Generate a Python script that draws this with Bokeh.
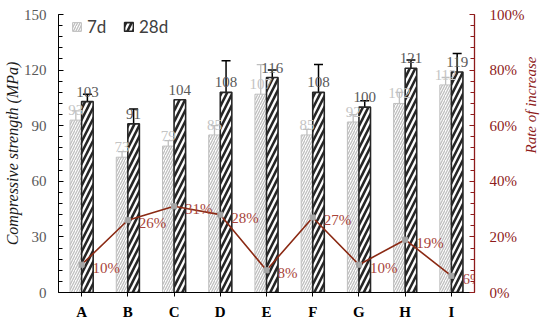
import math
from bokeh.plotting import figure
from bokeh.models import (ColumnDataSource, Range1d, LinearAxis, SingleIntervalTicker,
                          PrintfTickFormatter, Whisker, TeeHead, FactorRange,
                          Legend, LegendItem)
from bokeh.transform import dodge
from bokeh.core.properties import value
from bokeh.embed import file_html
from bokeh.resources import INLINE

categories = ["A", "B", "C", "D", "E", "F", "G", "H", "I"]
strength_7d = [93, 73, 79, 85, 107, 85, 92, 102, 112]
strength_28d = [103, 91, 104, 108, 116, 108, 100, 121, 119]
err_7d = [5, 3, 3, 5, 16, 3, 4, 6, 4]
err_28d = [4, 8, 0, 17, 4, 15, 3.5, 4.5, 10]
rate_increase = [10, 26, 31, 28, 8, 27, 10, 19, 6]
left_ticks_interval = 30
right_ticks_interval = 20

SERIF = "Liberation Serif"
DARKRED = "#8E1B1B"
LINE_RED = "#8B2A14"
LABEL_RED = "#A8443A"

src = ColumnDataSource(dict(
    cat=categories,
    s7=strength_7d,
    s28=strength_28d,
    up7=[v + e for v, e in zip(strength_7d, err_7d)],
    lo7=[v - e for v, e in zip(strength_7d, err_7d)],
    up28=[v + e for v, e in zip(strength_28d, err_28d)],
    lo28=[v - e for v, e in zip(strength_28d, err_28d)],
    t7=[str(v) for v in strength_7d],
    t28=[str(v) for v in strength_28d],
    rate=rate_increase,
    trate=["%d%%" % v for v in rate_increase],
))

p = figure(frame_width=416, frame_height=278, output_backend="svg", toolbar_location=None,
           x_range=FactorRange(*categories, range_padding=0, factor_padding=0),
           y_range=Range1d(0, 150),
           min_border_left=54, min_border_right=64, min_border_top=14, min_border_bottom=22)
p.outline_line_color = None
p.xgrid.visible = False
p.ygrid.visible = False
p.extra_y_ranges = {"rate": Range1d(0, 100)}

off = 0.125
bw = 0.25
r7 = p.vbar(x=dodge("cat", -off, range=p.x_range), top="s7", width=bw, source=src,
            fill_color="white", line_color="#BFBFBF", line_width=1,
            hatch_pattern="/", hatch_color="#BFBFBF", hatch_weight=1.3, hatch_scale=5)
r28 = p.vbar(x=dodge("cat", off, range=p.x_range), top="s28", width=bw, source=src,
             fill_color="white", line_color="#262626", line_width=1.6,
             hatch_pattern="/", hatch_color="#262626", hatch_weight=2.6, hatch_scale=11)

w7 = Whisker(base=dodge("cat", -off, range=p.x_range), upper="up7", lower="lo7", source=src,
             line_color="#BFBFBF", line_width=1.3,
             upper_head=TeeHead(size=8, line_color="#BFBFBF", line_width=1.3),
             lower_head=TeeHead(size=8, line_color="#BFBFBF", line_width=1.3))
w28 = Whisker(base=dodge("cat", off, range=p.x_range), upper="up28", lower="lo28", source=src,
              line_color="black", line_width=1.5,
              upper_head=TeeHead(size=9, line_color="black", line_width=1.5),
              lower_head=TeeHead(size=9, line_color="black", line_width=1.5))
p.add_layout(w7)
p.add_layout(w28)

p.text(x=dodge("cat", -off, range=p.x_range), y="s7", text="t7", source=src,
       text_align="center", text_baseline="alphabetic", y_offset=-10,
       text_font=value(SERIF), text_font_size="15px", text_color="#C4C4C4")
p.text(x=dodge("cat", off, range=p.x_range), y="s28", text="t28", source=src,
       text_align="center", text_baseline="alphabetic", y_offset=-10,
       text_font=value(SERIF), text_font_size="15px", text_color="#595959")

# rate of increase line
p.line(x="cat", y="rate", source=src, y_range_name="rate", line_color=LINE_RED, line_width=1.6)
p.scatter(x="cat", y="rate", source=src, y_range_name="rate", marker="square", size=5,
          fill_color="#A6A6A6", line_color="#A6A6A6")
p.text(x="cat", y="rate", text="trate", source=src, y_range_name="rate",
       text_align="left", text_baseline="middle", x_offset=11, y_offset=3,
       text_font=value(SERIF), text_font_size="15px", text_color=LABEL_RED)

# legend
leg = Legend(items=[LegendItem(label="7d", renderers=[r7]),
                    LegendItem(label="28d", renderers=[r28])],
             location=(13, 255), orientation="horizontal",
             border_line_color=None, background_fill_alpha=0,
             margin=0, padding=0, spacing=16, label_standoff=5,
             glyph_width=11, glyph_height=11,
             label_text_font="Lato", label_text_font_size="17px", label_text_color="#404040")
p.add_layout(leg)

# left axis
ya = p.yaxis[0]
ya.ticker = SingleIntervalTicker(interval=left_ticks_interval, num_minor_ticks=5)
ya.axis_label = "Compressive strength (MPa)"
ya.axis_label_text_font = SERIF
ya.axis_label_text_font_style = "italic"
ya.axis_label_text_font_size = "16px"
ya.axis_label_text_color = "#1A1A1A"
ya.axis_label_standoff = 0
ya.major_label_text_font = SERIF
ya.major_label_text_font_size = "15px"
ya.major_label_text_color = "#595959"
ya.major_label_standoff = 12
ya.major_tick_in = 5
ya.major_tick_out = 0
ya.minor_tick_in = 4
ya.minor_tick_out = 0
ya.axis_line_color = "black"
ya.major_tick_line_color = "black"
ya.minor_tick_line_color = "black"

# bottom axis
xa = p.xaxis[0]
xa.major_label_text_font = SERIF
xa.major_label_text_font_style = "bold"
xa.major_label_text_font_size = "15px"
xa.major_label_text_color = "black"
xa.major_tick_in = 0
xa.major_tick_out = 4
xa.major_label_standoff = 7
xa.axis_line_color = "black"
xa.major_tick_line_color = "black"

# right axis
ra = LinearAxis(y_range_name="rate",
                ticker=SingleIntervalTicker(interval=right_ticks_interval, num_minor_ticks=5),
                formatter=PrintfTickFormatter(format="%d%%"))
ra.axis_line_color = DARKRED
ra.axis_line_width = 1.3
ra.major_tick_line_color = DARKRED
ra.minor_tick_line_color = DARKRED
ra.major_tick_in = 5
ra.major_tick_out = 0
ra.minor_tick_in = 4
ra.minor_tick_out = 0
ra.major_label_text_font = SERIF
ra.major_label_text_font_size = "15px"
ra.major_label_text_color = DARKRED
ra.major_label_standoff = 15
ra.axis_label = "Rate of increase"
ra.axis_label_text_font = SERIF
ra.axis_label_text_font_style = "italic"
ra.axis_label_text_font_size = "15px"
ra.axis_label_text_color = DARKRED
ra.axis_label_standoff = 4
try:
    ra.axis_label_orientation = math.pi / 2
except Exception:
    pass
p.add_layout(ra, "right")

open("out.html", "w").write(file_html(p, INLINE))
